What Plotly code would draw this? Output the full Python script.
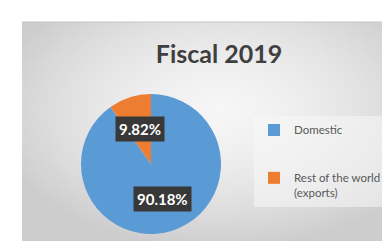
import math, zlib, struct, base64
import plotly.graph_objects as go

# ---- data ----
categories = ["Domestic", "Rest of the world (exports)"]
legend_labels = ["Domestic<br> <br> ", "Rest of the world<br>(exports)"]
shares = [90.18, 9.82]
title_text = "Fiscal 2019"
colors = ["#5B9BD5", "#ED7D31"]

W, H = 390, 241

# ---- background gradient image (style only) ----
def gradient_png(w, h):
    rows = []
    cx, cy = 0.52 * w, 0.38 * h
    for j in range(h):
        row = bytearray([0])
        for i in range(w):
            d = math.hypot((i - cx) / w, (j - cy) / h)
            v = int(max(205, min(247, 247 - 70 * d * d - 25 * d)))
            row += bytes([v, v, v])
        rows.append(bytes(row))
    raw = b"".join(rows)
    def chunk(t, d):
        c = struct.pack(">I", len(d)) + t + d
        return c + struct.pack(">I", zlib.crc32(t + d) & 0xffffffff)
    png = b"\x89PNG\r\n\x1a\n"
    png += chunk(b"IHDR", struct.pack(">IIBBBBB", w, h, 8, 2, 0, 0, 0))
    png += chunk(b"IDAT", zlib.compress(raw, 9))
    png += chunk(b"IEND", b"")
    return "data:image/png;base64," + base64.b64encode(png).decode()

bg = gradient_png(94, 57)

# pie placement (pixels)
pcx, pcy, pr = 143, 156, 70
dom_x = [(pcx - pr) / W, (pcx + pr) / W]
dom_y = [(H - pcy - pr) / H, (H - pcy + pr) / H]

fig = go.Figure(go.Pie(
    labels=legend_labels,
    values=shares,
    sort=False,
    direction="clockwise",
    rotation=0,
    marker=dict(colors=colors, line=dict(width=0)),
    textinfo="none",
    hovertext=categories,
    hoverinfo="text+percent",
    domain=dict(x=dom_x, y=dom_y),
))

# data labels as boxed annotations placed at slice mid-angles
total = sum(shares)
cum = 0.0
annotations = []
for v in shares:
    mid = cum + v / 2
    cum += v
    ang = math.radians(90 - 360 * mid / total)
    px = pcx + 0.53 * pr * math.cos(ang)
    py = pcy - 0.53 * pr * math.sin(ang)
    annotations.append(dict(
        x=px / W, y=1 - py / H, xref="paper", yref="paper",
        text=f"<b>{v:.2f}%</b>", showarrow=False,
        xanchor="center", yanchor="middle",
        font=dict(family="Lato", size=15, color="white"),
        bgcolor="#383838", borderpad=3,
    ))

fig.update_layout(
    width=W, height=H, autosize=False,
    margin=dict(l=0, r=0, t=0, b=0),
    paper_bgcolor="white",
    title=dict(text=title_text, x=211 / W, y=1 - 46 / H, xanchor="center", yanchor="middle",
               font=dict(family="Lato", size=25, color="#3f3f3f", weight="bold")),
    showlegend=True,
    legend=dict(x=246 / W, y=1 - 108 / H, xanchor="left", yanchor="top",
                valign="top", bgcolor="rgba(248,248,248,0.55)",
                font=dict(family="Lato", size=11.5, color="#595959"),
                tracegroupgap=0, itemwidth=30),
    annotations=annotations,
    images=[dict(source=bg, xref="paper", yref="paper", x=14 / W, y=1 - 14 / H,
                 sizex=(W - 14) / W, sizey=(H - 14) / H, sizing="stretch",
                 xanchor="left", yanchor="top", layer="below")],
    shapes=[dict(type="line", xref="paper", yref="paper", x0=14 / W, x1=1,
                 y0=1 - 14 / H, y1=1 - 14 / H, line=dict(color="#c4c4c4", width=1))],
)

fig.write_html("out.html")
